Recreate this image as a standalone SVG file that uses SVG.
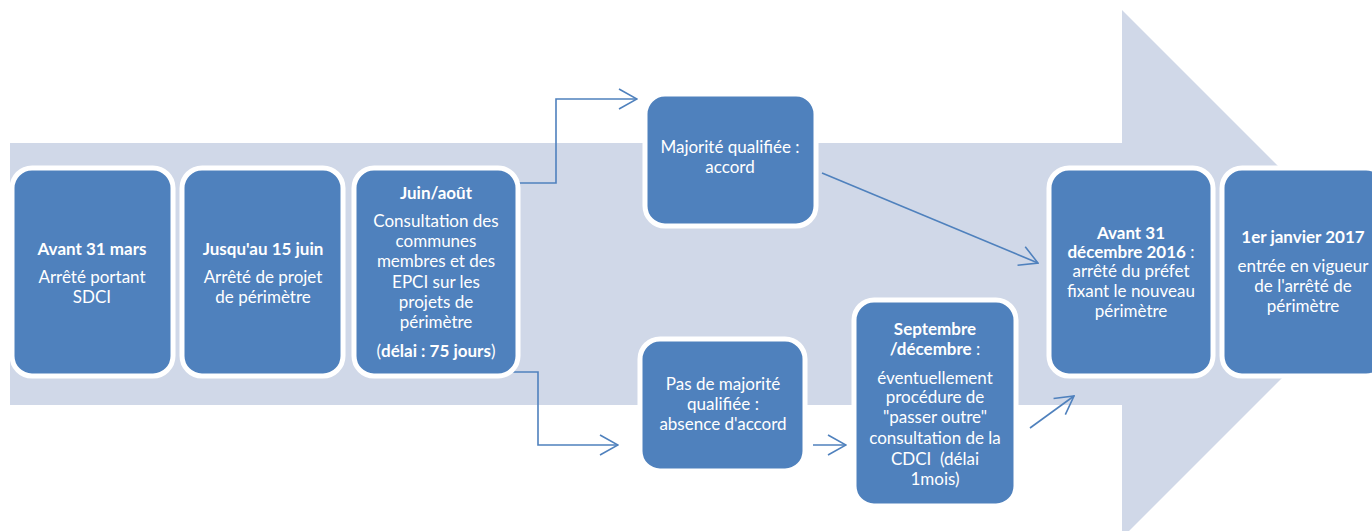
<svg xmlns="http://www.w3.org/2000/svg" width="1372" height="531" viewBox="0 0 1372 531">
<style>
.bg{fill:#D0D8E8}
.node rect{fill:#4F81BD;stroke:#FFFFFF;stroke-width:5}
.node text{font-family:Lato,"Open Sans",sans-serif;font-size:17px;fill:#FFFFFF;text-anchor:middle}
.b{font-weight:bold}
.n{font-weight:normal}
.conn path{fill:none;stroke:#4F81BD;stroke-width:1.6}
</style>
<defs>
<marker id="arr" viewBox="0 0 20 22" refX="19" refY="11" markerWidth="20" markerHeight="22" markerUnits="userSpaceOnUse" orient="auto">
<path d="M1,1 L19,11 L1,21" fill="none" stroke="#4F81BD" stroke-width="1.6"/>
</marker>
</defs>
<polygon class="bg" points="10,143 1122,143 1122,10 1386,274 1122,538 1122,405 10,405"/>
<g class="conn">
<path d="M473,183 H556 V99 H637" marker-end="url(#arr)"/>
<path d="M455,372 H538 V445 H618" marker-end="url(#arr)"/>
<path d="M822,173 L1038,263" marker-end="url(#arr)"/>
<path d="M813,445 H846" marker-end="url(#arr)"/>
<path d="M1030,428 L1074,396" marker-end="url(#arr)"/>
</g>
<g id="n1" class="node">
<rect x="12" y="168" width="161" height="208" rx="20"/>
<text x="92" y="255" class="b">Avant 31 mars</text>
<text x="92" y="283">Arrêté portant</text>
<text x="92" y="303">SDCI</text>
</g>
<g id="n2" class="node">
<rect x="182" y="168" width="161" height="208" rx="20"/>
<text x="263" y="255" class="b">Jusqu'au 15 juin</text>
<text x="263" y="283">Arrêté de projet</text>
<text x="263" y="303">de périmètre</text>
</g>
<g id="n3" class="node">
<rect x="354" y="168" width="164" height="208" rx="20"/>
<text x="436" y="199" class="b">Juin/août</text>
<text x="436" y="227">Consultation des</text>
<text x="436" y="247">communes</text>
<text x="436" y="267">membres et des</text>
<text x="436" y="288">EPCI sur les</text>
<text x="436" y="308">projets de</text>
<text x="436" y="328">périmètre</text>
<text x="436" y="357">(<tspan class="b">délai : 75 jours</tspan>)</text>
</g>
<g id="n4" class="node">
<rect x="645" y="94" width="171" height="132" rx="20"/>
<text x="730" y="153">Majorité qualifiée :</text>
<text x="730" y="173">accord</text>
</g>
<g id="n5" class="node">
<rect x="640" y="339" width="165" height="132" rx="20"/>
<text x="723" y="390">Pas de majorité</text>
<text x="723" y="410">qualifiée :</text>
<text x="723" y="430">absence d'accord</text>
</g>
<g id="n6" class="node">
<rect x="854" y="300" width="162" height="206" rx="20"/>
<text x="935" y="335" class="b">Septembre</text>
<text x="935" y="355"><tspan class="b">/décembre</tspan> :</text>
<text x="935" y="384">éventuellement</text>
<text x="935" y="403">procédure de</text>
<text x="935" y="423">"passer outre"</text>
<text x="935" y="444">consultation de la</text>
<text x="935" y="465" xml:space="preserve">CDCI  (délai</text>
<text x="935" y="485">1mois)</text>
</g>
<g id="n7" class="node">
<rect x="1049" y="168" width="164" height="208" rx="20"/>
<text x="1131" y="239" class="b">Avant 31</text>
<text x="1131" y="258"><tspan class="b">décembre 2016</tspan> :</text>
<text x="1131" y="277">arrêté du préfet</text>
<text x="1131" y="297">fixant le nouveau</text>
<text x="1131" y="317">périmètre</text>
</g>
<g id="n8" class="node">
<rect x="1222" y="168" width="164" height="208" rx="20"/>
<text x="1303" y="243" class="b">1er janvier 2017</text>
<text x="1303" y="272">entrée en vigueur</text>
<text x="1303" y="292">de l'arrêté de</text>
<text x="1303" y="312">périmètre</text>
</g>
</svg>
